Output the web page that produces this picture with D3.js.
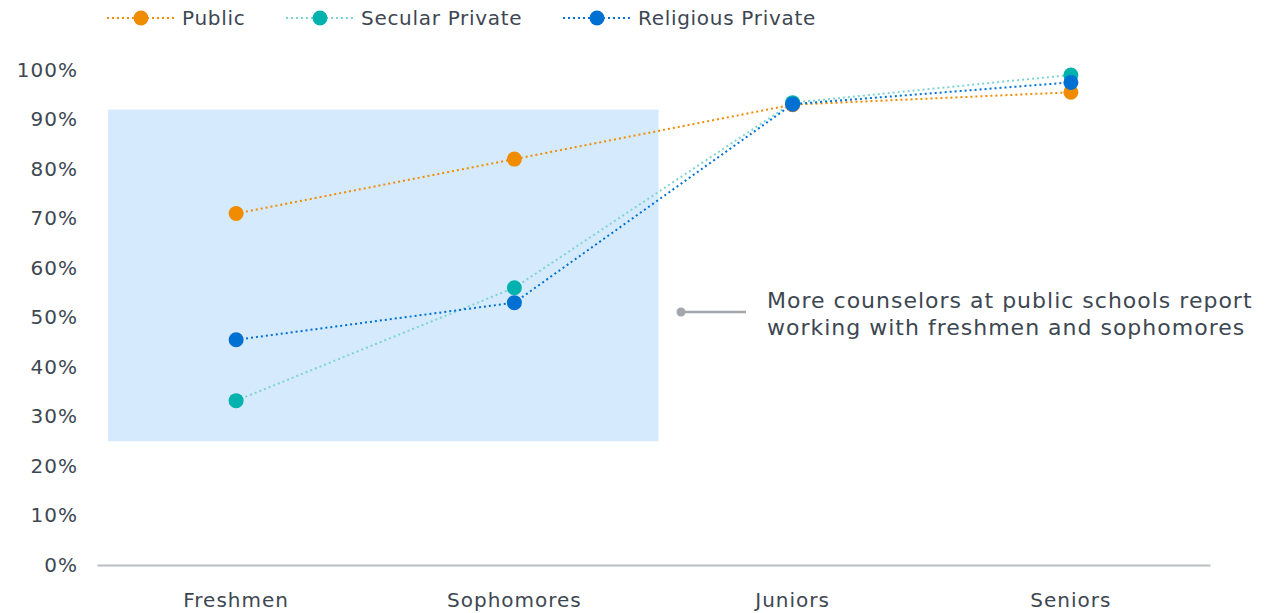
<!DOCTYPE html>
<html>
<head>
<meta charset="utf-8">
<script src="https://cdn.jsdelivr.net/npm/d3@7"></script>
<style>
  html, body { margin: 0; padding: 0; background: #fff; }
  svg { display: block; font-family: "DejaVu Sans", Verdana, sans-serif; }
</style>
</head>
<body>
<svg id="chart" width="1270" height="613"></svg>
<script>
// Grade levels counselors report working with, by school type
const categories = ["Freshmen", "Sophomores", "Juniors", "Seniors"];
const seriesNames = ["Public", "Secular Private", "Religious Private"];
const publicValues = [71, 82, 93, 95.5];
const secularValues = [33.2, 56, 93.4, 99];
const religiousValues = [45.5, 53, 93.1, 97.5];
const yTicks = [0, 10, 20, 30, 40, 50, 60, 70, 80, 90, 100];
const highlightRange = [25, 92];
const noteLines = ["More counselors at public schools report", "working with freshmen and sophomores"];

const series = [
  { name: seriesNames[0], values: publicValues, line: "#f08c00", dot: "#f08c00" },
  { name: seriesNames[1], values: secularValues, line: "#7fd3d1", dot: "#00b2ae" },
  { name: seriesNames[2], values: religiousValues, line: "#0072d6", dot: "#0070d2" }
];

const svg = d3.select("#chart");
const margin = { left: 97, right: 60, top: 70, bottom: 48 };
const W = 1270, H = 613;
const textColor = "#3d4752";
const fontFam = "\"DejaVu Sans\", Verdana, sans-serif";

const x = d3.scaleBand().domain(categories).range([margin.left, W - margin.right]);
const y = d3.scaleLinear().domain([0, 100]).range([H - margin.bottom, margin.top]);
const cx = c => x(c) + x.bandwidth() / 2;

// highlighted region behind the first two grades
svg.append("rect")
  .attr("x", x(categories[0]) + 11)
  .attr("y", y(highlightRange[1]))
  .attr("width", x.bandwidth() * 2 + 5 - 11)
  .attr("height", y(highlightRange[0]) - y(highlightRange[1]))
  .attr("fill", "#d5eafc");

// y axis labels
const yAxis = d3.axisLeft(y).tickValues(yTicks).tickFormat(d => d + "%").tickSize(0).tickPadding(0);
const gy = svg.append("g").attr("transform", `translate(${78},0)`).call(yAxis);
gy.select(".domain").remove();
gy.selectAll("text").attr("font-size", 20).attr("fill", textColor)
  .attr("font-family", fontFam).attr("letter-spacing", 1);

// x axis baseline and labels
const xAxis = d3.axisBottom(x).tickSize(0).tickPadding(28);
const gx = svg.append("g").attr("transform", `translate(0,${y(0)})`).call(xAxis);
gx.select(".domain").attr("stroke", "#b9bdc1").attr("stroke-width", 2);
gx.selectAll("text").attr("font-size", 20).attr("fill", textColor)
  .attr("font-family", fontFam).attr("letter-spacing", 1);

// dotted lines and markers
const line = d3.line().x((d, i) => cx(categories[i])).y(d => y(d));
series.forEach(s => {
  svg.append("path")
    .attr("d", line(s.values))
    .attr("fill", "none")
    .attr("stroke", s.line)
    .attr("stroke-width", 2)
    .attr("stroke-dasharray", "2,3");
});
series.forEach(s => {
  svg.selectAll(null).data(s.values).enter().append("circle")
    .attr("cx", (d, i) => cx(categories[i]))
    .attr("cy", d => y(d))
    .attr("r", 7.5)
    .attr("fill", s.dot);
});

// legend
const legendX = [107, 286, 563];
series.forEach((s, i) => {
  const g = svg.append("g").attr("transform", `translate(${legendX[i]},18)`);
  g.append("line").attr("x1", 0).attr("x2", 68).attr("y1", 0).attr("y2", 0)
    .attr("stroke", s.line).attr("stroke-width", 2).attr("stroke-dasharray", "2,3");
  g.append("circle").attr("cx", 34).attr("cy", 0).attr("r", 7.5).attr("fill", s.dot);
  g.append("text").attr("x", 75).attr("y", 0).attr("dy", "0.35em")
    .attr("font-size", 20).attr("letter-spacing", 0.7).attr("fill", textColor).text(s.name);
});

// annotation
const noteY = 312;
svg.append("line").attr("x1", 681).attr("x2", 746).attr("y1", noteY).attr("y2", noteY)
  .attr("stroke", "#a3a7ab").attr("stroke-width", 2.5);
svg.append("circle").attr("cx", 681).attr("cy", noteY).attr("r", 4.5).attr("fill", "#a3a7ab");
const note = svg.append("text").attr("x", 767).attr("y", 308)
  .attr("font-size", 22).attr("letter-spacing", 1).attr("fill", textColor);
noteLines.forEach((t, i) => {
  note.append("tspan").attr("x", 767).attr("dy", i === 0 ? 0 : 27).text(t);
});
</script>
</body>
</html>
